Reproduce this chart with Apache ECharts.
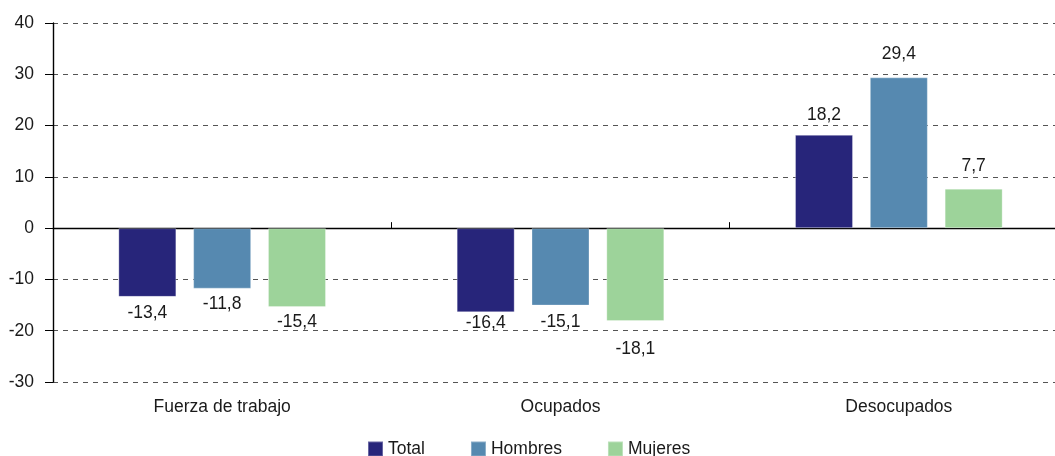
<!DOCTYPE html>
<html><head><meta charset="utf-8">
<script src="https://cdn.jsdelivr.net/npm/echarts@6/dist/echarts.min.js"></script>
<style>html,body{margin:0;padding:0;background:#fff}#c{width:1055px;height:456px}</style>
</head><body><div id="c"></div>
<script>
const categories = ['Fuerza de trabajo', 'Ocupados', 'Desocupados'];
const seriesNames = ['Total', 'Hombres', 'Mujeres'];
const totalValues = [-13.4, -16.4, 18.2];
const hombresValues = [-11.8, -15.1, 29.4];
const mujeresValues = [-15.4, -18.1, 7.7];
const colors = ['#27257a', '#5689b0', '#9dd39a'];

// label placement (style only): distance from bar end, per series / category
const labelDistances = [[7, 1.5, 10.5], [6.5, 7.5, 14], [6, 19, 13]];

const FONT = 'Liberation Sans, Arial, sans-serif';
const FS = 17.5;
const TXT = '#1a1a1a';
function mkData(vals, dists) {
  return vals.map((v, i) => ({
    value: v,
    label: {position: v < 0 ? 'bottom' : 'top', distance: dists[i]}
  }));
}
function mkSeries(name, vals, color, dists) {
  return {
    name: name, type: 'bar', xAxisIndex: 0, yAxisIndex: 0,
    data: mkData(vals, dists), barWidth: 58, barGap: '29%',
    itemStyle: {color: color, borderColor: 'rgba(255,255,255,0.3)', borderWidth: 1},
    label: {show: true, fontFamily: FONT, fontSize: FS, color: TXT,
      formatter: p => String(p.value).replace('.', ',')}
  };
}
const chart = echarts.init(document.getElementById('c'), null, {renderer: 'canvas'});
chart.setOption({
  animation: false,
  color: colors,
  grid: {left: 53, width: 1015, top: 23, height: 359, containLabel: false, outerBoundsMode: 'none'},
  legend: {
    data: seriesNames, top: 440, left: 367,
    itemWidth: 15, itemHeight: 15, itemGap: 45,
    icon: 'rect',
    textStyle: {fontFamily: FONT, fontSize: FS, color: TXT},
    padding: 0
  },
  xAxis: [{
    type: 'category', data: categories, position: 'bottom',
    axisLine: {show: false}, axisTick: {show: false},
    axisLabel: {fontFamily: FONT, fontSize: FS, color: TXT, margin: 16}
  }, {
    type: 'category', data: categories,
    axisLine: {show: true, onZero: true, onZeroAxisIndex: 0, lineStyle: {color: '#000', width: 1.4}},
    axisTick: {show: true, length: 6, lineStyle: {color: '#000'}},
    axisLabel: {show: false}
  }],
  yAxis: {
    type: 'value', min: -30, max: 40, interval: 10,
    axisLine: {show: true, lineStyle: {color: '#000', width: 1.4}},
    axisTick: {show: true, length: 8, lineStyle: {color: '#000'}},
    axisLabel: {fontFamily: FONT, fontSize: FS, color: TXT, margin: 19},
    splitLine: {show: true, lineStyle: {color: '#555', type: [5, 5], width: 1}}
  },
  series: [
    mkSeries(seriesNames[0], totalValues, colors[0], labelDistances[0]),
    mkSeries(seriesNames[1], hombresValues, colors[1], labelDistances[1]),
    mkSeries(seriesNames[2], mujeresValues, colors[2], labelDistances[2])
  ]
});
</script></body></html>
